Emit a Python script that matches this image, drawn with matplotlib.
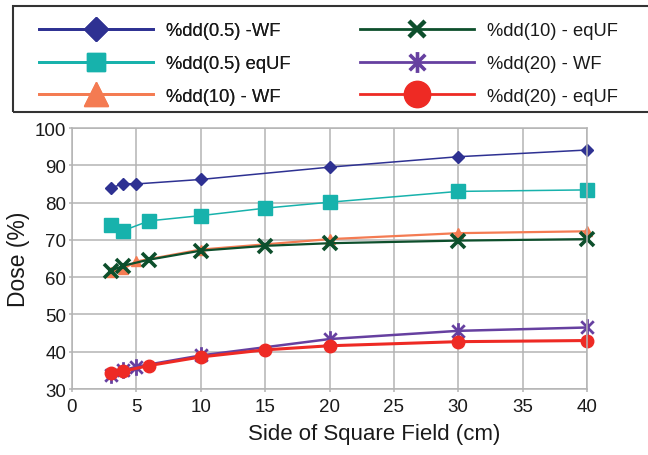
import matplotlib

matplotlib.use("Agg")
import matplotlib.pyplot as plt
from matplotlib.lines import Line2D
from matplotlib.patches import Rectangle
from matplotlib.path import Path

# field sizes (cm) -- WF curves were measured at 5, eqUF curves at 6 and 15
FIELD_WF = [3, 4, 5, 10, 20, 30, 40]
FIELD_EQUF = [3, 4, 6, 10, 15, 20, 30, 40]

DD05_WF = [83.9, 85.1, 85.0, 86.2, 89.5, 92.3, 94.1]
DD05_EQUF = [74.1, 72.5, 75.1, 76.5, 78.5, 80.1, 83.0, 83.4]
DD10_WF = [61.4, 62.3, 64.2, 67.4, 70.2, 71.8, 72.3]
DD10_EQUF = [61.7, 63.1, 64.7, 67.1, 68.4, 69.1, 69.8, 70.2]
DD20_WF = [33.8, 35.0, 36.0, 39.0, 43.4, 45.6, 46.5]
DD20_EQUF = [34.2, 34.8, 36.3, 38.6, 40.5, 41.6, 42.7, 43.0]

LABELS = [
    "%dd(0.5) -WF",
    "%dd(0.5) eqUF",
    "%dd(10) - WF",
    "%dd(10) - eqUF",
    "%dd(20) - WF",
    "%dd(20) - eqUF",
]
X_TICKS = [0, 5, 10, 15, 20, 25, 30, 35, 40]
Y_TICKS = [30, 40, 50, 60, 70, 80, 90, 100]

GRID = "#b4b4b4"
ASTERISK = Path(
    [(0, -1), (0, 1), (-0.75, -0.75), (0.75, 0.75), (-0.75, 0.75), (0.75, -0.75)],
    [Path.MOVETO, Path.LINETO] * 3,
)

# (x, y, colour, marker, plot ms, plot lw, legend ms, mew)
SERIES = [
    (FIELD_WF, DD05_WF, "#2e3192", "D", 6.0, 1.1, 12.5, 1.0),
    (FIELD_EQUF, DD05_EQUF, "#17b2ac", "s", 9.5, 1.1, 12.3, 1.0),
    (FIELD_WF, DD10_WF, "#f47b52", "^", 6.5, 1.6, 17.5, 1.0),
    (FIELD_EQUF, DD10_EQUF, "#0d4f2c", "x", 10.0, 1.6, 11.5, 2.6),
    (FIELD_WF, DD20_WF, "#6640a0", ASTERISK, 12.0, 1.8, 15.0, 2.0),
    (FIELD_EQUF, DD20_EQUF, "#ee2a24", "o", 9.0, 2.2, 19.0, 1.0),
]


def setup_style():
    plt.rcParams.update({
        "font.family": ["Liberation Sans", "DejaVu Sans"],
        "font.size": 13.5,
        "text.color": "#1a1a1a",
        "axes.labelcolor": "#1a1a1a",
        "xtick.color": GRID,
        "ytick.color": GRID,
        "xtick.labelcolor": "#1a1a1a",
        "ytick.labelcolor": "#1a1a1a",
    })


def plot_dose():
    fig = plt.figure(figsize=(6.48, 4.56), dpi=100)
    ax = fig.add_axes([0.1111, 0.1447, 0.7948, 0.5724])

    handles = []
    for x, y, color, marker, ms, lw, leg_ms, mew in SERIES:
        hollow = isinstance(marker, Path) or marker == "x"
        ax.plot(
            x, y, color=color, lw=lw, marker=marker, ms=ms,
            mfc="none" if hollow else color, mec=color, mew=mew, clip_on=False,
        )
        handles.append(Line2D(
            [], [], color=color, lw=2.0, marker=marker, ms=leg_ms,
            mfc="none" if hollow else color, mec=color, mew=mew + 0.6 if hollow else 1.0,
        ))

    ax.set_xlim(0, 40)
    ax.set_ylim(30, 100)
    ax.set_xticks(X_TICKS)
    ax.set_yticks(Y_TICKS)
    ax.grid(True, color=GRID, lw=1.1)
    ax.set_axisbelow(True)
    for spine in ax.spines.values():
        spine.set_color(GRID)
        spine.set_linewidth(1.1)
    ax.tick_params(axis="both", length=2.5, width=1.1)
    ax.tick_params(axis="y", pad=1.5)
    ax.tick_params(axis="x", pad=4)

    ax.set_xlabel("Side of Square Field (cm)", fontsize=16, labelpad=6)
    ax.xaxis.label.set_x(0.586)
    ax.set_ylabel("Dose (%)", fontsize=16.5, labelpad=4)

    # legend box runs off the right edge, as in the original
    fig.add_artist(Rectangle(
        (13 / 648, 1 - 113 / 456), 1.2, 106 / 456,
        transform=fig.transFigure, facecolor="none", edgecolor="#333333", lw=1.5,
    ))
    leg_kw = dict(
        loc="upper left", frameon=False, fontsize=13.2, borderpad=0,
        borderaxespad=0, handlelength=6.2, handletextpad=0.75, labelspacing=0.86,
    )
    top = 0.949
    left = fig.legend(handles[:3], LABELS[:3], bbox_to_anchor=(39 / 648, top), **leg_kw)
    fig.add_artist(left)
    fig.legend(handles[3:], LABELS[3:], bbox_to_anchor=(360 / 648, top), **leg_kw)

    fig.savefig("out.png", dpi=100)
    plt.close(fig)


def main():
    setup_style()
    plot_dose()


if __name__ == "__main__":
    main()
